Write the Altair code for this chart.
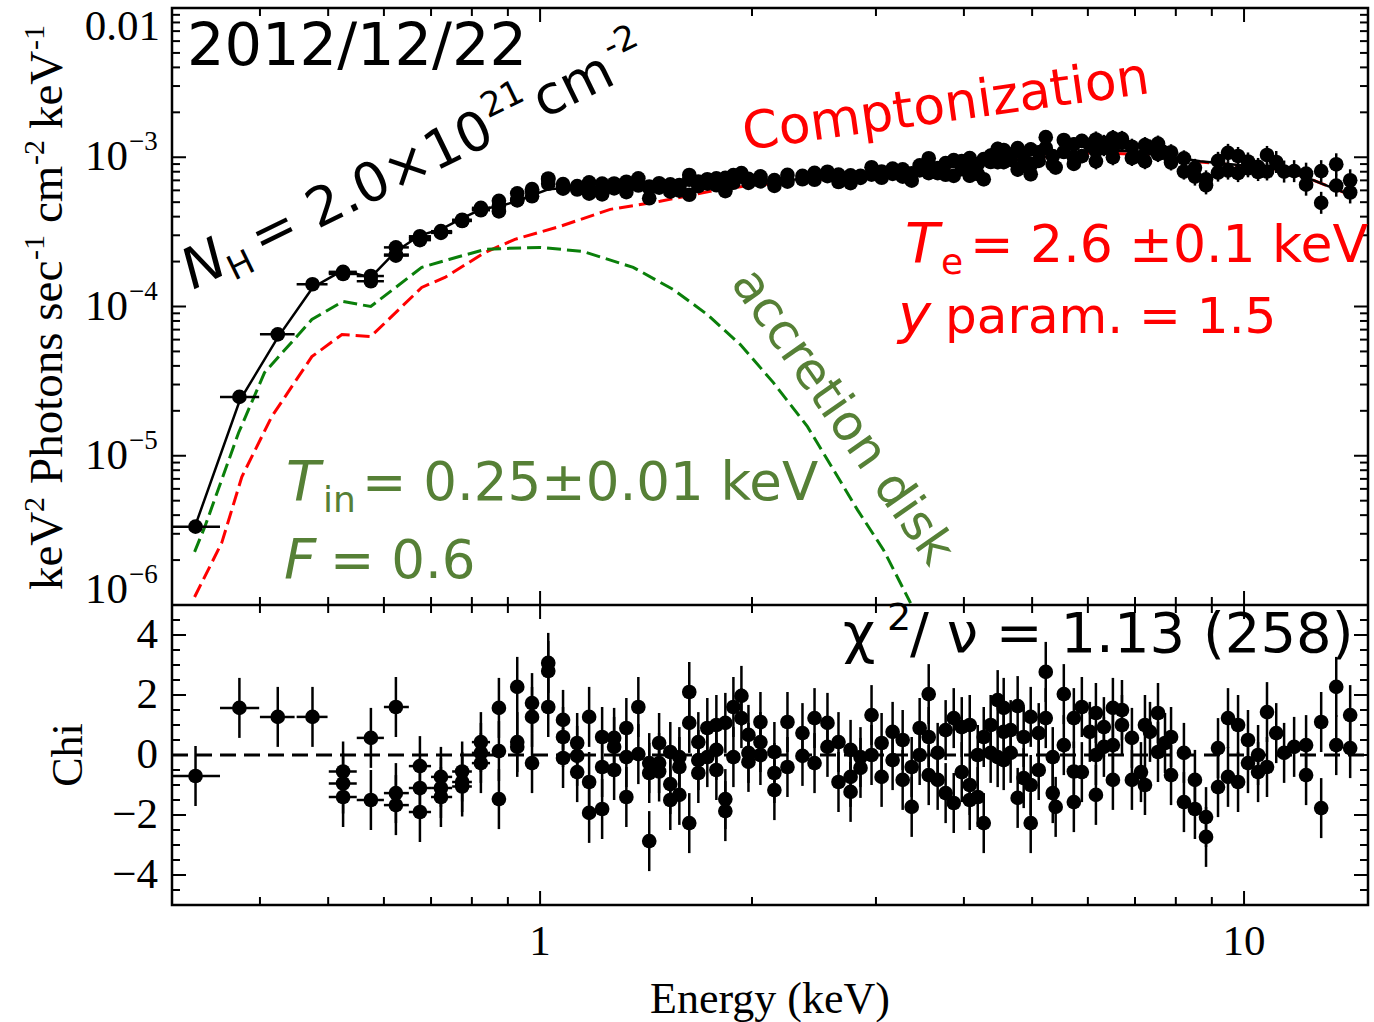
import altair as alt
import pandas as pd

# ---------------- data ----------------
# spectral bins: energy (keV), unfolded flux (units of 1e-4 keV^2 ph/s/cm2/keV), residual chi
energy_keV = [
    0.324,
    0.374,
    0.424,
    0.475,
    0.525, 0.525, 0.525,
    0.575, 0.575,
    0.624, 0.624, 0.624,
    0.675, 0.675, 0.675,
    0.723, 0.723, 0.723,
    0.775, 0.775, 0.775,
    0.824, 0.824, 0.824,
    0.874, 0.874, 0.874,
    0.928, 0.928, 0.928,
    0.974, 0.974, 0.974,
    1.027, 1.027, 1.027,
    1.078, 1.078, 1.078,
    1.129, 1.129, 1.129,
    1.174, 1.174, 1.174,
    1.225, 1.225, 1.225,
    1.274, 1.274, 1.274,
    1.326, 1.326, 1.326,
    1.379, 1.379,
    1.429, 1.429, 1.429,
    1.476, 1.476, 1.476,
    1.531, 1.531, 1.531,
    1.577, 1.577, 1.577,
    1.629, 1.629, 1.629,
    1.678, 1.678, 1.678,
    1.728, 1.728,
    1.780, 1.780, 1.780,
    1.833, 1.833, 1.833,
    1.882, 1.882,
    1.932, 1.932,
    1.977, 1.977, 1.977,
    2.056, 2.056, 2.056,
    2.152, 2.152, 2.152,
    2.246, 2.246,
    2.359, 2.359,
    2.454, 2.454,
    2.560, 2.560,
    2.654, 2.654,
    2.761, 2.761, 2.761,
    2.852, 2.852,
    2.957, 2.957,
    3.056, 3.056,
    3.168, 3.168,
    3.274, 3.274,
    3.372, 3.372,
    3.461, 3.461,
    3.565, 3.565, 3.565,
    3.671, 3.671,
    3.768, 3.768,
    3.869, 3.869,
    3.972, 3.972,
    4.077, 4.077, 4.077,
    4.185, 4.185,
    4.268, 4.268,
    4.366, 4.366,
    4.467, 4.467,
    4.556, 4.556, 4.556,
    4.661, 4.661,
    4.769, 4.769,
    4.864, 4.864,
    4.977, 4.977, 4.977,
    5.109, 5.109,
    5.228, 5.228,
    5.349, 5.349,
    5.40,
    5.546, 5.546,
    5.731, 5.731, 5.731,
    5.883, 5.883,
    6.039,
    6.160, 6.160, 6.160,
    6.323, 6.323,
    6.512, 6.512, 6.512,
    6.708, 6.708,
    6.930, 6.930,
    7.138,
    7.232, 7.232,
    7.352,
    7.547, 7.547,
    7.722,
    7.876, 7.876,
    8.215, 8.215,
    8.516, 8.516,
    8.831, 8.831,
    9.184, 9.184,
    9.489, 9.489,
    9.806, 9.806,
    10.13, 10.13,
    10.47, 10.47,
    10.78, 10.78,
    11.11,
    11.40,
    11.78,
    12.25, 12.25,
    12.87, 12.87,
    13.52, 13.52,
    14.15, 14.15,
]

flux_1e4 = [
    0.0335,
    0.248,
    0.651,
    1.409,
    1.707, 1.681, 1.652,
    1.600, 1.477,
    2.489, 2.227, 2.193,
    2.954, 2.871, 2.784,
    3.197, 3.150, 3.113,
    3.813, 3.763, 3.742,
    4.581, 4.494, 4.415,
    5.105, 4.727, 4.335,
    5.728, 5.186, 5.141,
    6.108, 5.954, 5.478,
    7.20, 7.096, 6.65,
    6.60, 6.40, 6.16,
    6.41, 6.26, 6.08,
    6.78, 6.03, 5.70,
    6.66, 6.21, 5.64,
    6.67, 6.53, 6.19,
    6.85, 6.41, 5.84,
    7.22, 6.47,
    6.37, 6.22, 5.31,
    6.69, 6.39, 6.26,
    6.58, 6.10, 5.88,
    6.52, 6.37, 5.97,
    7.60, 7.07, 5.61,
    6.88, 6.60, 6.41,
    7.12, 6.66,
    7.21, 6.81, 6.49,
    7.27, 6.10, 5.93,
    7.59, 6.75,
    7.82, 7.42,
    7.16, 6.87, 6.73,
    7.45, 7.11, 6.90,
    7.03, 6.69, 6.43,
    7.61, 6.86,
    7.50, 7.12,
    7.85, 7.07,
    7.99, 7.47,
    7.65, 6.83,
    7.56, 7.01, 6.71,
    7.50, 7.27,
    8.57, 7.65,
    8.02, 7.29,
    8.39, 7.74,
    8.30, 7.41,
    7.80, 6.97,
    8.82, 8.17,
    9.85, 8.71, 7.82,
    8.45, 7.82,
    9.13, 7.63,
    9.56, 7.51,
    9.43, 8.31,
    9.86, 7.94, 7.52,
    8.99, 7.72,
    9.71, 7.12,
    10.26, 9.29,
    11.39, 9.27,
    11.19, 10.26, 9.27,
    10.44, 9.62,
    11.51, 8.27,
    10.39, 8.96,
    11.30, 8.84, 7.70,
    10.79, 9.45,
    13.64, 11.55,
    10.17, 8.93,
    8.54,
    13.04, 10.85,
    12.21, 10.02, 9.02,
    12.87, 10.17,
    12.06,
    13.15, 11.06, 9.39,
    12.48, 11.51,
    13.45, 11.53, 10.0,
    13.27, 12.48,
    11.76, 9.89,
    10.02,
    12.06, 9.41,
    11.62,
    12.34, 10.51,
    10.69,
    10.80, 9.23,
    9.83, 8.02,
    8.49, 7.42,
    7.11, 6.48,
    9.46, 7.89,
    10.70, 8.14,
    10.20, 7.83,
    9.37, 8.43,
    8.61, 7.96,
    10.36, 8.03,
    9.29,
    8.02,
    8.07,
    7.76, 6.55,
    8.07, 4.95,
    8.97, 6.45,
    7.01, 5.81,
]

chi_values = [
    -0.7,
    1.57,
    1.27,
    1.27,
    -0.55, -0.95, -1.4,
    0.57, -1.5,
    1.6, -1.27, -1.67,
    -0.37, -1.1, -1.9,
    -0.73, -1.1, -1.4,
    -0.55, -0.9, -1.05,
    0.43, 0.07, -0.27,
    1.57, 0.13, -1.47,
    2.27, 0.43, 0.27,
    1.73, 1.27, -0.27,
    3.07, 2.8, 1.6,
    1.17, 0.6, -0.1,
    0.4, -0.03, -0.57,
    1.27, -0.9, -1.93,
    0.6, -0.4, -1.8,
    0.57, 0.27, -0.5,
    0.9, -0.07, -1.4,
    1.6, 0.03,
    -0.27, -0.6, -2.87,
    0.4, -0.27, -0.55,
    0.1, -0.97, -1.5,
    -0.07, -0.4, -1.33,
    2.1, 1.07, -2.27,
    0.43, -0.17, -0.6,
    0.9, -0.07,
    1.0, 0.17, -0.5,
    1.07, -1.47, -1.87,
    1.6, -0.07,
    1.97, 1.23,
    0.67, 0.07, -0.23,
    1.1, 0.43, 0.0,
    0.1, -0.6, -1.17,
    1.1, -0.4,
    0.73, -0.03,
    1.23, -0.27,
    1.07, 0.27,
    0.43, -0.9,
    0.17, -0.73, -1.23,
    -0.07, -0.43,
    1.33, 0.0,
    0.4, -0.73,
    0.77, -0.17,
    0.5, -0.83,
    -0.4, -1.73,
    0.9, 0.0,
    2.03, 0.6, -0.67,
    0.07, -0.83,
    0.83, -1.27,
    1.23, -1.6,
    0.93, -0.57,
    1.0, -1.0, -1.5,
    0.0, -1.4,
    0.6, -2.27,
    1.0, 0.07,
    1.83, -0.07,
    1.57, 0.77, -0.17,
    0.83, 0.07,
    1.63, -1.43,
    0.6, -0.77,
    1.27, -1.0, -2.27,
    0.73, -0.5,
    2.77, 1.23,
    -0.07, -1.27,
    -1.73,
    2.03, 0.33,
    1.23, -0.55, -1.57,
    1.6, -0.57,
    0.77,
    1.4, 0.0, -1.33,
    0.93, 0.27,
    1.57, 0.33, -0.83,
    1.5, 1.0,
    0.57, -0.83,
    -0.57,
    1.0, -1.0,
    0.77,
    1.4, 0.1,
    0.4,
    0.6, -0.67,
    0.07, -1.57,
    -0.83, -1.8,
    -2.07, -2.73,
    0.23, -1.07,
    1.23, -0.73,
    1.0, -0.9,
    0.5, -0.27,
    0.0, -0.57,
    1.43, -0.4,
    0.73,
    0.07,
    0.27,
    0.33, -0.67,
    1.1, -1.77,
    2.27, 0.33,
    1.33, 0.23,
]

# energy extent of the wide low-energy bins (horizontal error bars)
bin_center_keV = [0.324, 0.374, 0.424, 0.475, 0.525, 0.575, 0.624, 0.675, 0.723, 0.775, 0.824]
bin_lo_keV = [0.300, 0.351, 0.400, 0.451, 0.501, 0.549, 0.600, 0.651, 0.700, 0.750, 0.800]
bin_hi_keV = [0.351, 0.399, 0.448, 0.499, 0.549, 0.600, 0.651, 0.700, 0.750, 0.800, 0.849]

# 1-sigma flux error factor by energy band
band_upper_keV = [0.8, 1.2, 2.5, 4.0, 6.0, 8.5, 11.0, 15.0]
band_err_factor = [1.039, 1.056, 1.072, 1.089, 1.114, 1.132, 1.149, 1.185]

# total model (black line)
model_E = [0.324, 0.3744, 0.4239, 0.4754, 0.5245, 0.5747, 0.6238, 0.6752, 0.7232, 0.7745,
           0.8243, 0.8743, 0.9275, 0.974, 1.027, 1.078, 1.217, 1.434, 1.705, 2.056, 2.342,
           2.760, 3.252, 3.956, 4.514, 5.140, 5.665, 6.258, 6.904, 7.616, 8.661, 10.23,
           10.93, 12.06, 12.87, 13.52, 14.22]
model_F4 = [0.0344, 0.234, 0.619, 1.342, 1.744, 1.566, 2.339, 3.0, 3.29, 3.90,
            4.48, 4.69, 5.07, 5.56, 6.10, 6.19, 6.38, 6.49, 6.69, 6.90, 7.12,
            7.46, 7.93, 8.70, 9.40, 10.0, 10.64, 11.14, 10.97, 10.31, 9.40, 8.70,
            8.44, 7.57, 6.69, 6.10, 5.56]

# accretion disk component (green dashed)
disk_E = [0.323, 0.334, 0.373, 0.406, 0.474, 0.5245, 0.5747, 0.679, 0.742, 0.835, 0.892,
          1.0, 1.151, 1.356, 1.546, 1.728, 1.925, 2.145, 2.398, 2.611, 2.824, 3.075, 3.36]
disk_F4 = [0.0227, 0.0334, 0.1426, 0.3606, 0.818, 1.081, 1.0, 1.828, 2.066, 2.413, 2.449,
           2.489, 2.339, 1.828, 1.300, 0.883, 0.556, 0.309, 0.1567, 0.0805, 0.0434, 0.0234, 0.0103]

# Comptonization component (red dashed)
comp_E = [0.323, 0.353, 0.377, 0.4157, 0.474, 0.523, 0.5747, 0.679, 0.7324, 0.835, 0.921,
          1.068, 1.258, 1.481, 1.745, 1.945, 2.342, 2.760, 3.252, 3.956, 4.514, 5.140,
          5.665, 6.258, 6.904, 7.616, 8.661, 10.23, 10.93, 12.06, 12.87, 13.52, 14.22]
comp_F4 = [0.01132, 0.0261, 0.0723, 0.1828, 0.4615, 0.6486, 0.629, 1.342, 1.566, 2.303, 2.818,
           3.443, 4.477, 5.07, 5.91, 6.38, 6.93, 7.37, 7.90, 8.69, 9.40, 9.98,
           10.5, 10.7, 10.5, 10.05, 9.30, 8.65, 8.40, 7.55, 6.68, 6.09, 5.55]

# axis ticks and labels
x_major = [1, 10]
x_minor = [0.4, 0.5, 0.6, 0.7, 0.8, 0.9, 2, 3, 4, 5, 6, 7, 8, 9]
x_labels = ["1", "10"]
y_major = [1e-6, 1e-5, 1e-4, 1e-3, 1e-2]
y_minor = [k * 10.0 ** p for p in (-6, -5, -4, -3) for k in range(2, 10)]
y_mid_label_vals = [1e-5, 1e-4, 1e-3]
y_mid_label_exps = ["\u22125", "\u22124", "\u22123"]
chi_major = [-4, -2, 0, 2, 4]
chi_minor = [-4.5, -3.5, -3, -2.5, -1.5, -1, -0.5, 0.5, 1, 1.5, 2.5, 3, 3.5, 4.5]
chi_labels = ["\u22124", "\u22122", "0", "2", "4"]

# ---------------- layout / style ----------------
W, H_TOP, H_BOT = 1196, 597, 300
H = H_TOP + H_BOT
SERIF = "Liberation Serif"
SANS = "DejaVu Sans"
RED = "#ff0000"
GREEN_LINE = "#0a7f0a"
GREEN_TXT = "#568036"
MAJ, MIN = 14, 8
DOT = 215

n = min(len(energy_keV), len(flux_1e4), len(chi_values))
bins = {c: (lo, hi) for c, lo, hi in zip(bin_center_keV, bin_lo_keV, bin_hi_keV)}


def err_factor(e):
    for hi, f in zip(band_upper_keV, band_err_factor):
        if e < hi:
            return f
    return band_err_factor[-1]


rows = []
for e, f4, c in zip(energy_keV[:n], flux_1e4[:n], chi_values[:n]):
    F = f4 * 1e-4
    fac = err_factor(e)
    lo, hi = bins.get(e, (e, e))
    rows.append(dict(E=e, F=F, Flo=F / fac, Fhi=F * fac, chi=c, clo=c - 1, chi_hi=c + 1, elo=lo, ehi=hi))
df = pd.DataFrame(rows)
df_bins = df[df.ehi > df.elo]

df_model = pd.DataFrame({"E": model_E, "F": [v * 1e-4 for v in model_F4]})
df_disk = pd.DataFrame({"E": disk_E, "F": [v * 1e-4 for v in disk_F4]})
df_comp = pd.DataFrame({"E": comp_E, "F": [v * 1e-4 for v in comp_F4]})

xs = alt.Scale(type="log", domain=[0.3, 15], nice=False)
ys_top = alt.Scale(type="log", domain=[1e-6, 1e-2], range=[H_TOP, 0], nice=False)
ys_bot = alt.Scale(type="linear", domain=[-5, 5], range=[H, H_TOP], nice=False, zero=False)


def X(f):
    return alt.X(f, type="quantitative", scale=xs, axis=None)


def YT(f):
    return alt.Y(f, type="quantitative", scale=ys_top, axis=None)


def YB(f):
    return alt.Y(f, type="quantitative", scale=ys_bot, axis=None)


def xticks(vals, y0, y1):
    return alt.Chart(pd.DataFrame({"v": vals})).mark_rule(color="black", strokeWidth=2).encode(
        x=X("v"), y=alt.value(y0), y2=alt.value(y1))


def yticks(vals, yenc, x0, x1):
    return alt.Chart(pd.DataFrame({"v": vals})).mark_rule(color="black", strokeWidth=2).encode(
        y=yenc("v"), x=alt.value(x0), x2=alt.value(x1))


def text(s, x, y, size, color="black", font=SANS, angle=0, align="left",
         baseline="alphabetic", italic=False, dx=0, dy=0):
    kw = dict(align=align, baseline=baseline, fontSize=size, font=font, color=color, dx=dx, dy=dy)
    if angle:
        kw["angle"] = angle % 360
    if italic:
        kw["fontStyle"] = "italic"
    return alt.Chart(pd.DataFrame({"t": [s]})).mark_text(**kw).encode(
        text="t:N", x=alt.value(x), y=alt.value(y))


# ---------------- top panel ----------------
comp_line = alt.Chart(df_comp).mark_line(color=RED, strokeDash=[14, 6], strokeWidth=3).encode(
    x=X("E"), y=YT("F"))
disk_line = alt.Chart(df_disk).mark_line(color=GREEN_LINE, strokeDash=[14, 6], strokeWidth=3).encode(
    x=X("E"), y=YT("F"))
model_line = alt.Chart(df_model).mark_line(color="black", strokeWidth=2.5).encode(x=X("E"), y=YT("F"))
top_ey = alt.Chart(df).mark_rule(color="black", strokeWidth=2.5).encode(x=X("E"), y=YT("Flo"), y2="Fhi")
top_ex = alt.Chart(df_bins).mark_rule(color="black", strokeWidth=2.5).encode(x=X("elo"), x2="ehi", y=YT("F"))
top_pts = alt.Chart(df).mark_circle(size=DOT, color="black", opacity=1).encode(x=X("E"), y=YT("F"))

ylab_mid = alt.Chart(pd.DataFrame({"v": y_mid_label_vals, "e": y_mid_label_exps}))
ylab_top = [
    ylab_mid.mark_text(align="right", baseline="middle", font=SERIF, fontSize=43).encode(
        y=YT("v"), x=alt.value(-44), text=alt.value("10")),
    ylab_mid.mark_text(align="left", baseline="middle", font=SERIF, fontSize=27, dy=-15).encode(
        y=YT("v"), x=alt.value(-43), text="e:N"),
    alt.Chart(pd.DataFrame({"v": [1e-6]})).mark_text(
        align="right", baseline="middle", font=SERIF, fontSize=43, dy=-15).encode(
        y=YT("v"), x=alt.value(-44), text=alt.value("10")),
    alt.Chart(pd.DataFrame({"v": [1e-6]})).mark_text(
        align="left", baseline="middle", font=SERIF, fontSize=27, dy=-30).encode(
        y=YT("v"), x=alt.value(-43), text=alt.value("\u22126")),
    alt.Chart(pd.DataFrame({"v": [1e-2]})).mark_text(
        align="right", baseline="top", font=SERIF, fontSize=43, dy=-2).encode(
        y=YT("v"), x=alt.value(-12), text=alt.value("0.01")),
]

top = alt.layer(
    comp_line, disk_line, model_line, top_ey, top_ex, top_pts,
    yticks(y_major, YT, 0, MAJ), yticks(y_minor, YT, 0, MIN),
    yticks(y_major, YT, W - MAJ, W), yticks(y_minor, YT, W - MIN, W),
    xticks(x_major, 0, MAJ), xticks(x_minor, 0, MIN),
    xticks(x_major, H_TOP - MAJ, H_TOP), xticks(x_minor, H_TOP - MIN, H_TOP),
    *ylab_top,
)

# ---------------- bottom panel ----------------
zero_line = alt.Chart(pd.DataFrame({"v": [0]})).mark_rule(
    color="black", strokeWidth=3, strokeDash=[16, 8]).encode(
    y=YB("v"), x=alt.value(0), x2=alt.value(W))
separator = alt.Chart(pd.DataFrame({"v": [5]})).mark_rule(color="black", strokeWidth=2.5).encode(
    y=YB("v"), x=alt.value(0), x2=alt.value(W))
bot_ey = alt.Chart(df).mark_rule(color="black", strokeWidth=2.5).encode(x=X("E"), y=YB("clo"), y2="chi_hi")
bot_ex = alt.Chart(df_bins).mark_rule(color="black", strokeWidth=2.5).encode(x=X("elo"), x2="ehi", y=YB("chi"))
bot_pts = alt.Chart(df).mark_circle(size=DOT, color="black", opacity=1).encode(x=X("E"), y=YB("chi"))

chi_lab = alt.Chart(pd.DataFrame({"v": chi_major, "t": chi_labels})).mark_text(
    align="right", baseline="middle", font=SERIF, fontSize=43).encode(
    y=YB("v"), x=alt.value(-14), text="t:N")
x_lab = alt.Chart(pd.DataFrame({"v": x_major, "t": x_labels})).mark_text(
    align="center", baseline="middle", font=SERIF, fontSize=43).encode(
    x=X("v"), y=alt.value(H + 37), text="t:N")

bottom = alt.layer(
    zero_line, bot_ey, bot_ex, bot_pts, separator,
    yticks(chi_major, YB, 0, MAJ), yticks(chi_minor, YB, 0, MIN),
    yticks(chi_major, YB, W - MAJ, W), yticks(chi_minor, YB, W - MIN, W),
    xticks(x_major, H_TOP, H_TOP + MAJ), xticks(x_minor, H_TOP, H_TOP + MIN),
    xticks(x_major, H - MAJ, H), xticks(x_minor, H - MIN, H),
    chi_lab, x_lab,
)

# ---------------- annotations and titles ----------------
NH_X, NH_Y, NH_A = 21, 282, -26
TX = -110
ann = [
    text("2012/12/22", 15, 57, 59),
    text("N", NH_X, NH_Y, 56, angle=NH_A, italic=True),
    text("H", NH_X, NH_Y, 34, angle=NH_A, dx=41, dy=10),
    text("= 2.0\u00d710", NH_X, NH_Y, 54, angle=NH_A, dx=76),
    text("21", NH_X, NH_Y, 34, angle=NH_A, dx=340, dy=-25),
    text("cm", NH_X, NH_Y, 54, angle=NH_A, dx=390),
    text("-2", NH_X, NH_Y, 34, angle=NH_A, dx=476, dy=-25),
    text("Comptonization", 573, 142, 52, color=RED, angle=-8),
    text("T", 733, 254, 56, color=RED, italic=True),
    text("e", 769, 266, 36, color=RED),
    text("= 2.6 \u00b10.1 keV", 798, 254, 52, color=RED),
    text("y", 726, 325, 56, color=RED, italic=True),
    text("param. = 1.5", 773, 325, 50, color=RED),
    text("T", 114, 492, 56, color=GREEN_TXT, italic=True),
    text("in", 151, 504, 36, color=GREEN_TXT),
    text("= 0.25\u00b10.01 keV", 190, 492, 53, color=GREEN_TXT),
    text("F", 112, 570, 56, color=GREEN_TXT, italic=True),
    text("= 0.6", 158, 570, 53, color=GREEN_TXT),
    text("accretion disk", 558, 275, 50, color=GREEN_TXT, angle=55),
    text("\u03c7", 671, 644, 56),
    text("2", 715, 622, 38),
    text("/ \u03bd = 1.13 (258)", 738, 644, 56),
    # axis titles
    text("Energy (keV)", W / 2, H + 95, 44, font=SERIF, align="center", baseline="middle"),
    text("Chi", -90, 747, 44, font=SERIF, angle=270, align="center"),
    text("keV", TX, 582, 47, font=SERIF, angle=270),
    text("2", TX, 582, 30, font=SERIF, angle=270, dx=78, dy=-18),
    text("Photons sec", TX, 582, 47, font=SERIF, angle=270, dx=106),
    text("-1", TX, 582, 30, font=SERIF, angle=270, dx=330, dy=-18),
    text("cm", TX, 582, 47, font=SERIF, angle=270, dx=367),
    text("-2", TX, 582, 30, font=SERIF, angle=270, dx=425, dy=-18),
    text("keV", TX, 582, 47, font=SERIF, angle=270, dx=461),
    text("-1", TX, 582, 30, font=SERIF, angle=270, dx=540, dy=-18),
]
annotations = alt.layer(*ann)

chart = alt.layer(top, bottom, annotations).resolve_scale(y="independent").properties(
    width=W, height=H,
    padding={"left": 172, "top": 8, "right": 6, "bottom": 117},
    autosize=alt.AutoSizeParams(type="none"),
).configure_view(stroke="black", strokeWidth=2.5)

chart.save("out.html", embed_options={"renderer": "svg", "actions": False})
